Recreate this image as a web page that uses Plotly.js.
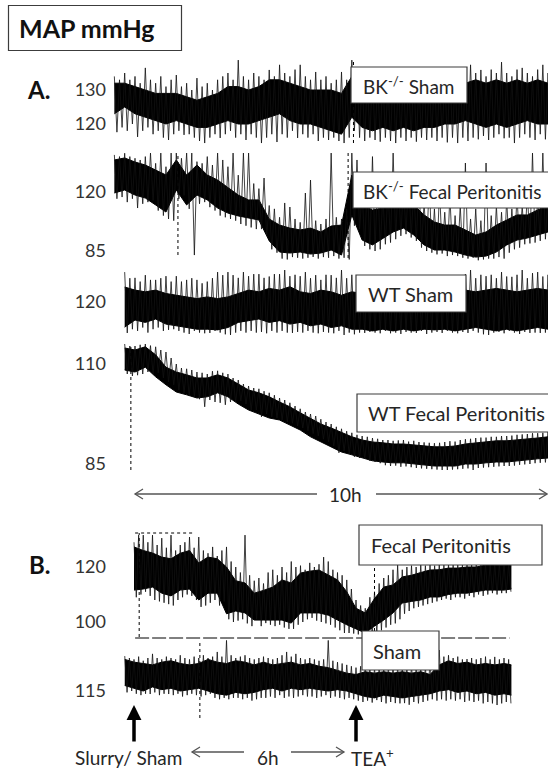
<!DOCTYPE html>
<html><head><meta charset="utf-8">
<script src="https://cdn.plot.ly/plotly-3.0.1.min.js"></script>
<style>html,body{margin:0;padding:0;background:#fff;}#chart{width:548px;height:769px;}</style>
</head><body><div id="chart"></div>
<script>
// ---------- DATA (hours, mmHg) ----------
// coarse grids for the dense core of each trace
const tA = [-0.5,-0.25,0,0.25,0.5,0.75,1,1.25,1.5,1.75,2,2.25,2.5,2.75,3,3.25,3.5,3.75,4,4.25,4.5,4.75,5,5.25,5.5,5.75,6,6.25,6.5,6.75,7,7.25,7.5,7.75,8,8.25,8.5,8.75,9,9.25,9.5,9.75,10];
const tB = [-0.25,0,0.25,0.5,0.75,1,1.25,1.5,1.75,2,2.25,2.5,2.75,3,3.25,3.5,3.75,4,4.25,4.5,4.75,5,5.25,5.5,5.75,6,6.25,6.5,6.75,7,7.25,7.5,7.75,8,8.25,8.5,8.75,9,9.25,9.5,9.75,10,10.2];
// fine grids for the peak / trough of each short window
const tAF = [-0.5,-0.375,-0.25,-0.125,0,0.125,0.25,0.375,0.5,0.625,0.75,0.875,1,1.125,1.25,1.375,1.5,1.625,1.75,1.875,2,2.125,2.25,2.375,2.5,2.625,2.75,2.875,3,3.125,3.25,3.375,3.5,3.625,3.75,3.875,4,4.125,4.25,4.375,4.5,4.625,4.75,4.875,5,5.125,5.25,5.375,5.5,5.625,5.75,5.875,6,6.125,6.25,6.375,6.5,6.625,6.75,6.875,7,7.125,7.25,7.375,7.5,7.625,7.75,7.875,8,8.125,8.25,8.375,8.5,8.625,8.75,8.875,9,9.125,9.25,9.375,9.5,9.625,9.75,9.875,10];
const tBF = [-0.25,-0.125,0,0.125,0.25,0.375,0.5,0.625,0.75,0.875,1,1.125,1.25,1.375,1.5,1.625,1.75,1.875,2,2.125,2.25,2.375,2.5,2.625,2.75,2.875,3,3.125,3.25,3.375,3.5,3.625,3.75,3.875,4,4.125,4.25,4.375,4.5,4.625,4.75,4.875,5,5.125,5.25,5.375,5.5,5.625,5.75,5.875,6,6.125,6.25,6.375,6.5,6.625,6.75,6.875,7,7.125,7.25,7.375,7.5,7.625,7.75,7.875,8,8.125,8.25,8.375,8.5,8.625,8.75,8.875,9,9.125,9.25,9.375,9.5,9.625,9.75,9.875,10,10.125];

// A1: BK-/- Sham
const bkShamHi = [132,132,131,130,129,129,129,128,127,128,129,131,131,130,131,133,133,132,131,130,130,130,129,134,131,130,131,130,130,131,130,131,132,133,132,133,132,133,132,133,132,133,132];
const bkShamLo = [123,125,123,122,121,120,121,120,119,119,120,121,120,120,121,122,123,121,120,120,119,118,117,122,119,118,119,118,119,118,119,119,120,120,121,120,119,120,119,120,121,120,120];
const bkShamMax = [134,133,135,133,134,132,136.5,133,132,134, 131,133,134.4,131,132,130,133.5,131,132,130, 133,134,135,133,138.8,134,133,135,134,133, 135.9,134,137.4,135,134,136,137.4,134,133,135.3, 133,134,132,133,135.3,133,138.8,136,134,133, 135,133,134,132,135,133,134,133,135,132, 134,133,135,133,134,135,133,135,134,137.4, 135,135.9,134,136,135,138.2,135,134,136,136.5, 135,134,136,137.4,135];
const bkShamMin = [117.6,119,118,120,116.2,118,119,117,118,116, 115.3,117,118,116.8,117,116,115,114.4,116,117, 115.9,117,118,116,117,115.3,117,116,114.4,116, 117,114.7,117,116,118,115.9,117,116,117,115, 116,115.3,116,115,114.4,116,118,116,115,116, 115.3,114.8,116,115,114.4,116,115,116,114.8,116, 115.3,116,115,116,114.6,116,114.4,116,115,116, 115.5,116.5,115.3,116,117,115.8,116,114.4,116,117, 116,115.3,117,115.5,116];

// A2: BK-/- Fecal Peritonitis
const bkFecHi = [139.0,140.2,137.8,136.0,133.0,130.1,139.0,130.1,136.0,130.1,127.1,122.4,118.2,115.3,115.3,104,100.4,98.6,97.5,98.6,96.3,99.8,100.4,130.1,112.3,109.3,110.5,112.3,115.3,112.3,106.4,102.2,100.4,100.4,97.5,94.5,96.3,100.4,103.4,106.4,106.4,109.3,112.3];
const bkFecLo = [119.4,121.2,118.2,116.4,112.3,108.1,121.2,112.3,118.2,115.3,110.5,107.5,105.8,104.6,103.4,91,84.4,83.8,84.4,83.2,83.8,85.6,82.6,106.4,91.5,88.6,92.7,96.3,98.6,94.5,88.6,85.6,85.6,84.4,82.6,81.4,82.0,84.4,88.6,91.5,92.7,94.5,96.3];
const bkFecMax = [142,141,143,141,140,139,141,143.1,137,143.1, 135,143.1,143.1,140,143.1,143.1,138,137,141,136, 143.1,139,135,143.1,130,143.1,143.1,125,122,128.3, 112,110,105,113.5,111.1,104,102,119.4,127.1,103, 101,104,143.1,105,104,110,143.1,139,120,125, 141,130,118,122,143.1,128,124,130,121,126, 114,128,110,122,108,118,106,112,137.2,104, 110,103,137.2,106,112,108,116,110,118,112, 120,143.1,116,143.1,118];
const bkFecMin = [116,117,114,116,110.5,113,114,115,109,106, 104,103,116,118,110,82.6,113,114,111,109, 106,105,104,103,101,100,99,98,98,94, 86,84,80.5,80,81.4,81,80.5,81,81.5,80.5, 81.4,81,82,80.5,81,80,100,98,88,86, 85,86,89,90,92,94,95,93,91,87, 85,84,83,83.5,82,82.6,82,81,80.5,81, 79.5,80,80.5,80.5,81.4,80.5,84,86,87,89, 89.5,90,91,92,94];

// A3: WT Sham (starts at -0.25 h)
const wtShamHi = [124.4,123.5,123.0,123.5,122.5,122.0,121.5,121.0,121.5,121.0,121.5,122.5,123.5,123.0,124.0,123.5,124.5,123.0,122.5,123.5,123.0,122.0,123.0,122.5,123.0,122.5,123.0,122.5,123.0,122.5,123.0,122.5,123.0,123.5,123.0,123.5,124.0,123.5,123.0,123.5,124.0,123.5];
const wtShamLo = [112.6,114.7,114.0,115.0,113.5,113.0,112.5,112.0,112.0,111.8,112.5,114.0,114.5,115.0,114.0,114.5,113.5,114.0,113.0,113.5,112.5,113.0,112.0,112.0,111.5,112.0,111.5,112.0,111.5,112.0,111.8,112.0,111.5,112.0,112.5,112.0,111.5,112.0,111.5,112.0,112.5,112.0];
const wtShamMax = [128.8,127,127.1,126,127.9,126.5,126.5,127,127.6,126, 127.6,126,126.5,127,126.5,125.5,126,127,128.8,127.9, 128.8,127.9,127.1,128.8,127.6,128.2,128.2,127.1,127.5,128.2, 128.2,129.4,127.6,128,127.6,128.8,127,127.9,126.5,128, 127.9,127.1,129.4,127,128,127,126.5,127.5,126,127, 127,126.5,127.5,126,127,126.5,127,126,127.5,126.5, 127,126,127.5,126.5,127,126,128.2,129.4,127,128, 127.6,128,127,128.8,127.5,127.4,128,129.4,127,128.5, 128.8,127.5,128];
const wtShamMin = [110.9,112,111.5,112.5,111,112,112.5,111.5,111.8,112, 111.5,111,110.6,111.5,111,110.8,110.9,111.5,111,110.5, 110.3,111,111.5,111,111.5,111,111.2,110.8,111.5,111, 111.5,111,110.9,111.2,111,111.5,111,110.8,111.2,111, 110.8,111.5,110.3,111,110.5,111,110.9,111.2,111,110.8, 111.5,110.8,111,110.6,111.2,111,110.9,111.5,110.6,111, 111.2,110.9,111.5,111,110.8,111.2,110.9,111.5,111,110.5, 110.3,111,111.2,110.8,111.5,111,110.6,111.2,110.9,111, 110.9,111,110.5];

// A4: WT Fecal Peritonitis (starts at -0.25 h)
const wtFecHi = [114,113.5,114.3,112.3,109.2,108,107.3,106.5,106.5,107.3,106.5,105,103.5,102.8,101.8,100.5,99.3,97.8,96.5,95,94,92.8,91.8,91,90.5,90.3,90,90,89.8,89.5,89.3,89.3,89.5,90,90.3,90.5,90.8,90.8,91,91.3,91.5,91.8];
const wtFecLo = [108.5,108,109.2,106.8,104.8,103,102.3,101.5,101.8,102.8,101.8,100,98.5,97.5,96.5,96,94.8,93.5,91.8,90.5,89.3,88,87.3,86.5,85.8,85.5,85.3,85.3,85,84.8,84.5,84.5,84.5,85,85,85.3,85.5,85.5,85.8,86,86.3,86.5];
const wtFecMax = [115,114.5,114.5,114.8,115,114.6,114.3,113.5,113,111.5, 110,109,108.8,108.5,108,107.8,107.5,108.2,108.3,107.8, 107.5,106.5,106,105,104.5,104,103.8,103.2,102.8,102.2, 101.5,101,100.3,99.5,98.8,98,97.5,97,96.2,95.5, 95,94.3,93.8,93.2,92.8,92.3,92,91.8,91.5,91.3, 91,91,90.8,90.9,91,90.6,90.8,90.5,90.4,90.3, 90.2,90.3,90.5,90.7,90.6,91,91.2,91.3,91.5,91.6, 91.6,91.8,91.8,92,92,92.1,92.3,92.4,92.5,92.7, 92.7,92.8,93];
const wtFecMin = [107.5,107,107.2,107.5,108,107.5,107.8,106.5,105.5,104.8, 103.5,102.8,102,101.8,101.2,99.3,101,100.5,100.3,99.8, 100.5,100.5,100.8,100,98.5,98.5,96.8,97.5,96.8,96.5, 96,95.5,95.2,94.5,94,93.3,92.6,92,91.2,90.5, 89.5,87.8,88.3,87.5,86.8,86.5,86.3,85.8,85.5,85.2, 84.7,84.5,84.6,84.3,84.4,84.2,84,83.9,83.8,83.7, 83.6,83.5,83.5,83.6,83.7,83.8,83.9,83.5,84,84.1, 84.2,84.3,84.4,84.5,84.5,84.6,84.8,84.9,85,85.2, 85.3,85.4,85.5];

// B1: Fecal Peritonitis (starts at 0 h)
const bFecHi = [127.3,126,125.1,123.6,123,125,126,121.5,123.6,123,120,115,114.2,110.5,111.5,112.7,115.3,114.2,117.8,118.5,118.9,117,115.3,111,105,103.3,108.5,112.7,113.5,116.4,117,118,118.9,119,119.6,119.6,120,120,120.7,120.7,120.7,120.5];
const bFecLo = [111.6,112,112.7,110.5,109.5,111.6,112,108,110.5,110.5,103,104,103.3,100.7,100.7,100.7,100.7,99.6,103.3,103.3,103.3,102.5,100.7,99,97.5,96,98.5,100.7,103.3,106.9,107.5,108,109.1,109.1,110,110.5,110.5,111,111.6,111.6,111.6,112];
const bFecMax = [129,131.6,131.6,129,131.6,128,130.5,127,131.6,126, 128,129,130.9,127,130.9,126,125,127.3,124,126, 127.3,122,120,118,131.6,117,115,116,114,118, 119,117,120,118,122,120,120.5,119,121.5,120, 121,123.6,122,119,118,117,115.3,112,108,106, 105,109,111,114,116,117,119,120.7,119,120, 120.5,120,120.7,120.5,120.7,120.5,121,120.7,121,120.7, 121,120.7,121,120.8,121,121,121,120.8,121,121, 121,121];
const bFecMin = [109,110,111,109.5,108,107.5,107,106.5,106,108, 109,110,109.5,108,105.5,106,107,108,106,107.5, 101,100,100.5,101,99.5,98.5,101,98.5,99.6,99, 98.5,99,98,97.5,97.5,99,100,101,101.5,100.5, 100,99.5,99,98,97,96,96,95.8,95.5,95.5, 95,94.8,95.5,97,98,99,99.5,101,103,104, 105,105.5,106,106.5,107,107.5,108,108.5,108,109, 109,108.5,109.5,109,110,109.5,110,110.5,110,110.5, 110.5,111];

// B2: Sham (starts at -0.25 h)
const bShamHi = [126.5,125.5,125,124.5,125.5,126,125,124.5,125,126.5,125.5,125,126,125.5,124.5,125.5,124.5,125,125.5,124.5,125,124,123.5,122.5,121.5,121,122,121.5,122,121.5,122,121.5,122,121,124.5,126,125,125.5,124.5,125,124.5,125,124.5];
const bShamLo = [117,116,115,116.5,115.5,116,115,115.5,116,115,114,113.5,114.5,114,114.5,115.5,116,115,116,115.5,116,115.5,115,115.5,115,114,113,112.5,113.5,113,112.5,113,113.5,114,115,115.5,114.5,115,114,114.5,113.5,114,113.5];
const bShamMax = [127.7,127,126.5,127.5,126,127,128.5,127,126.5,127.5, 127,126.5,128,127,126.5,127.5,127,128,127,127.5, 129.2,127.5,133.4,128,127,127.5,128,127,126.5,127, 127.5,127,126.5,127,128,129.2,127.5,128.5,127,126.5, 127,126.5,126,126.5,133.4,126,125.5,125,124.5,124, 123.5,124,124.5,124,123.5,124,123.5,124,124.5,124, 123.5,124,124.5,124,123.5,124,126,127,129.9,127.5, 128,127,127.5,126.5,126.6,127,126.5,127,127.5,126.5, 127.4,126.5,127,126.5];
const bShamMin = [114.5,115,114,113.5,114,113.9,114.5,113.5,114,113.9, 113.5,114,113,113.5,114,113.5,113,113.5,114,112.5, 112,112.5,112,112.5,112.5,112,112.5,111.5,112,112.5, 112.5,113,112.5,113.5,112.5,113,112.5,113,113.5,113, 113,112.5,113,113.5,112.5,113,112.5,112,112.5,112, 111.5,111,111.5,110.8,111.7,111,110.5,111,110.6,110.5, 110.6,110,111,110.5,111,111.5,112,111.5,112,111.5, 112,111.5,112,111,111.5,111,111.5,110.5,111,110.5, 109.9,110.5,111,110.5];

// Event markers (dotted lines), hours
const eventsA1 = [5.29];
const eventsA2 = [1.04, 5.16];
const eventsA4 = [-0.1];
const eventsB1 = [0.14, 6.5];
const eventsB2 = [1.78];
const slurryT = 0, teaT = 6;

// Tick labels
const ticksA1 = [120,130], ticksA2 = [85,120], ticksA3 = [120], ticksA4 = [85,110], ticksB1 = [100,120], ticksB2 = [115];

// ---------- LAYOUT HELPERS ----------
const W = 548, H = 769;
const FONT = 'Lato, "Open Sans", sans-serif';
const px = x => x / W, py = y => 1 - y / H;

function yAx(tickvals, top, bot, refVal, refPx, ppu) {
  return {
    domain: [py(bot), py(top)],
    range: [refVal - (bot - refPx) / ppu, refVal + (refPx - top) / ppu],
    tickvals: tickvals, ticktext: tickvals.map(String),
    anchor: 'free', position: px(106), side: 'left',
    showgrid: false, zeroline: false, showline: false, ticks: '',
    tickfont: {family: FONT, size: 18, color: '#333'}, fixedrange: true
  };
}

const data = [];
function band(t, lo, hi, xa, ya) {
  data.push({x: t, y: lo, xaxis: xa, yaxis: ya, mode: 'lines', line: {color: '#000', width: 1}, hoverinfo: 'skip', showlegend: false});
  data.push({x: t, y: hi, xaxis: xa, yaxis: ya, mode: 'lines', fill: 'tonexty', fillcolor: '#000', line: {color: '#000', width: 1}, hoverinfo: 'skip', showlegend: false});
}
// noisy trace: zigzag through each window's peak, then its trough (drawn half a window later)
function noise(t, mn, mx, xa, ya) {
  const xs = [], ys = [];
  const half = (t[1] - t[0]) / 2;
  t.forEach((tt, i) => { xs.push(tt, tt + half); ys.push(mx[i], mn[i]); });
  data.push({x: xs, y: ys, xaxis: xa, yaxis: ya, mode: 'lines', line: {color: '#111', width: 0.8}, hoverinfo: 'skip', showlegend: false});
}

const tA2 = tA.slice(1), tB1 = tB.slice(1), tAF2 = tAF.slice(2), tBF1 = tBF.slice(2);
band(tA, bkShamLo, bkShamHi, 'x', 'y');   noise(tAF, bkShamMin, bkShamMax, 'x', 'y');
band(tA, bkFecLo, bkFecHi, 'x', 'y2');    noise(tAF, bkFecMin, bkFecMax, 'x', 'y2');
band(tA2, wtShamLo, wtShamHi, 'x', 'y3'); noise(tAF2, wtShamMin, wtShamMax, 'x', 'y3');
band(tA2, wtFecLo, wtFecHi, 'x', 'y4');   noise(tAF2, wtFecMin, wtFecMax, 'x', 'y4');
band(tB1, bFecLo, bFecHi, 'x2', 'y5');    noise(tBF1, bFecMin, bFecMax, 'x2', 'y5');
band(tB, bShamLo, bShamHi, 'x2', 'y6');   noise(tBF, bShamMin, bShamMax, 'x2', 'y6');

// shapes
const shapes = [];
function evLine(xref, t, top, bot) {
  shapes.push({type: 'line', xref: xref, yref: 'paper', x0: t, x1: t, y0: py(bot), y1: py(top), line: {color: '#000', width: 1, dash: 'dot'}});
}
eventsA1.forEach(t => evLine('x', t, 60, 143));
evLine('x', eventsA2[0], 153, 255); evLine('x', eventsA2[1], 150, 258);
eventsA4.forEach(t => evLine('x', t, 345, 470));
evLine('x2', eventsB1[0], 533, 637); evLine('x2', eventsB1[1], 567, 637);
eventsB2.forEach(t => evLine('x2', t, 640, 718));
shapes.push({type: 'line', xref: 'x2', yref: 'paper', x0: 0.03, x1: 1.59, y0: py(533), y1: py(533), line: {color: '#000', width: 1, dash: 'dot'}});
shapes.push({type: 'line', xref: 'x2', yref: 'paper', x0: 0.03, x1: 10.15, y0: py(638), y1: py(638), line: {color: '#000', width: 1, dash: '14px,3px'}});

function box(x0, y0, x1, y1) {
  shapes.push({type: 'rect', xref: 'paper', yref: 'paper', x0: px(x0), x1: px(x1), y0: py(y1), y1: py(y0), fillcolor: '#fff', line: {color: '#3c3c3c', width: 1.2}});
}
box(8.5, 5.5, 181.5, 50.5);
box(351, 67, 467, 103);
box(353, 172, 551, 208);
box(356, 275, 466, 312);
box(357, 394, 551, 432);
box(359, 525, 542, 565);
box(362, 631, 439, 670);

function hArrow(x0, x1, y, headLeft, headRight, color) {
  shapes.push({type: 'line', xref: 'paper', yref: 'paper', x0: px(x0), x1: px(x1), y0: py(y), y1: py(y), line: {color: color, width: 1.3}});
  if (headLeft) shapes.push({type: 'path', xref: 'paper', yref: 'paper', path: `M${px(x0 + 8)},${py(y - 5)} L${px(x0)},${py(y)} L${px(x0 + 8)},${py(y + 5)}`, line: {color: color, width: 1.3}});
  if (headRight) shapes.push({type: 'path', xref: 'paper', yref: 'paper', path: `M${px(x1 - 8)},${py(y - 5)} L${px(x1)},${py(y)} L${px(x1 - 8)},${py(y + 5)}`, line: {color: color, width: 1.3}});
}
hArrow(135, 317, 494, true, false, '#555');
hArrow(376, 547, 494, false, true, '#555');
hArrow(192, 244, 752, true, false, '#555');
hArrow(291, 344, 752, false, true, '#555');

// annotations
const ann = [];
function txt(text, x, y, size, anchor, bold) {
  ann.push({text: text, x: px(x), y: py(y), xref: 'paper', yref: 'paper', xanchor: anchor || 'left', yanchor: 'middle', showarrow: false,
    font: {family: FONT, size: size, color: bold ? '#111' : '#262626', weight: bold ? 700 : 400}});
}
txt('MAP mmHg', 17, 28, 25, 'left', true);
txt('A.', 25, 89, 24, 'left', true);
txt('B.', 27, 564, 24, 'left', true);
txt('BK<sup>-/-</sup> Sham', 361, 85, 19);
txt('BK<sup>-/-</sup> Fecal Peritonitis', 361, 190, 19);
txt('WT Sham', 366, 294, 20);
txt('WT Fecal Peritonitis', 366, 413, 20);
txt('Fecal Peritonitis', 369, 545, 20);
txt('Sham', 371, 651, 20);
txt('10h', 345, 494, 19, 'center');
txt('Slurry/ Sham', 73, 757, 19);
txt('6h', 268, 757, 19, 'center');
txt('TEA<sup>+</sup>', 349, 757, 19);
[slurryT, teaT].forEach(t => ann.push({text: '', x: t, y: py(705), xref: 'x2', yref: 'paper', showarrow: true, ax: 0, ay: 38,
  arrowhead: 2, arrowsize: 0.85, arrowwidth: 3.5, arrowcolor: '#000'}));

const hid = {visible: false, fixedrange: true};
const layout = {
  width: W, height: H, margin: {l: 0, r: 0, t: 0, b: 0},
  paper_bgcolor: '#fff', plot_bgcolor: 'rgba(0,0,0,0)', showlegend: false,
  xaxis: Object.assign({domain: [0, 1], range: [-135 / 41.3, 413 / 41.3], anchor: 'y'}, hid),
  xaxis2: Object.assign({domain: [0, 1], range: [-134 / 37, 414 / 37], anchor: 'y5'}, hid),
  yaxis: yAx(ticksA1, 55, 146, 130, 90, 3.4),
  yaxis2: yAx(ticksA2, 148, 262, 120, 192, 1.686),
  yaxis3: yAx(ticksA3, 262, 340, 120, 302, 3.4),
  yaxis4: yAx(ticksA4, 340, 475, 110, 364, 4.0),
  yaxis5: yAx(ticksB1, 525, 640, 120, 567, 2.75),
  yaxis6: yAx(ticksB2, 640, 720, 115, 691, 2.75),
  shapes: shapes, annotations: ann
};
Plotly.newPlot('chart', data, layout, {staticPlot: true, displayModeBar: false});
</script></body></html>
